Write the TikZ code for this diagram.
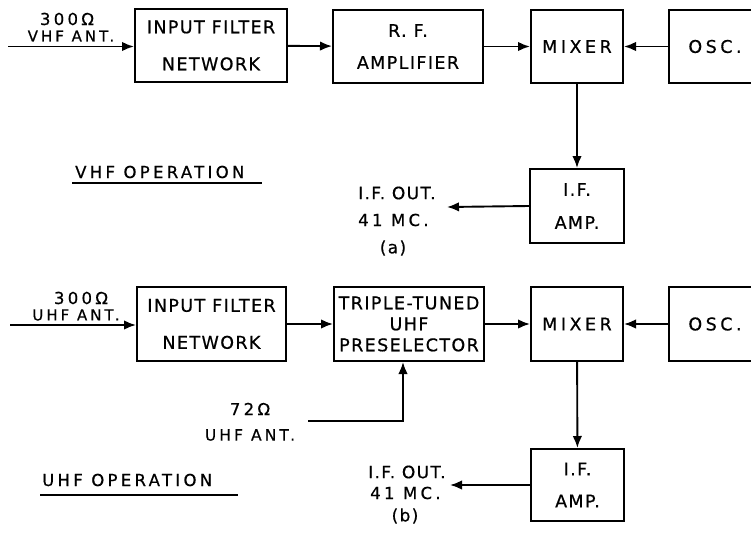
\documentclass[tikz,border=0pt]{standalone}
\usepackage{fontspec}
\usetikzlibrary{arrows.meta}
\newfontfamily\lbl[LetterSpace=8,FakeBold=0.6]{DejaVu Sans}
\newfontfamily\lblw[LetterSpace=20,FakeBold=0.6]{DejaVu Sans}
\tikzset{
  blk/.style={draw, line width=2pt, minimum width=#1, inner sep=0pt, align=center},
  blk/.default=150pt,
  two/.style={font=\lbl\fontsize{17.5}{#1}\selectfont},
  conn/.style={line width=1.9pt, -{Latex[length=12pt,width=9.5pt]}},
  wire/.style={line width=1.9pt},
  txt/.style={inner sep=0pt, font=\lbl\fontsize{17}{18}\selectfont},
  txtw/.style={inner sep=0pt, font=\lblw\fontsize{16.5}{18}\selectfont},
  small/.style={inner sep=0pt, font=\lblw\fontsize{15}{16}\selectfont},
  big/.style={font=\lblw\fontsize{17.5}{18}\selectfont},
}
\begin{document}
\begin{tikzpicture}[x=1pt,y=-1pt]
\useasboundingbox (0,0) rectangle (751,535);
\clip (0,0) rectangle (751,535);
% ---------- (a) VHF ----------
\node[blk=152pt, minimum height=73pt, two=37] (inf1) at (211,45.5) {INPUT FILTER\\NETWORK};
\node[blk=150pt, minimum height=73pt, two=32] (rf1) at (408,46.5) {R. F.\\AMPLIFIER};
\node[blk=92pt, minimum height=73pt, big] (mix1) at (577,46.5) {MIXER};
\node[blk=92pt, minimum height=73pt, big] (osc1) at (715,46.5) {OSC.};
\node[blk=94pt, minimum height=74pt, two=33] (ifa1) at (577,206) {I.F.\\AMP.};
\coordinate (ant1) at (8,46.5);
\coordinate (out1) at (447,207);
\node[txtw] (a1l1) at (67,19) {300Ω};
\node[small] (a1l2) at (71,36) {VHF ANT.};
\draw[conn] (ant1) -- (ant1 -| inf1.west);
\draw[conn] (inf1) -- (rf1);
\draw[conn] (rf1) -- (mix1);
\draw[conn] (osc1) -- (mix1);
\draw[conn] (mix1) -- (ifa1);
\draw[conn] (ifa1.west) -- (out1);
\node[txt, anchor=west] (o1a) at (358,193) {I.F. OUT.};
\node[txtw, anchor=west] (o1b) at (358,220) {41 MC.};
\node[txt] (o1c) at (393,248) {(a)};
\node[txtw, anchor=west] (vop) at (75,172) {VHF OPERATION};
\draw[wire] (72,183) -- (262,183);
% ---------- (b) UHF ----------
\node[blk=149pt, minimum height=74pt, two=37] (inf2) at (211.5,324) {INPUT FILTER\\NETWORK};
\node[blk=150pt, minimum height=74pt, two=21] (tt) at (409,324) {TRIPLE-TUNED\\UHF\\PRESELECTOR};
\node[blk=92pt, minimum height=74pt, big] (mix2) at (577,324) {MIXER};
\node[blk=92pt, minimum height=74pt, big] (osc2) at (715,324) {OSC.};
\node[blk=93pt, minimum height=72pt, two=32] (ifa2) at (577.5,485) {I.F.\\AMP.};
\coordinate (ant2) at (10,325);
\coordinate (ant3) at (308,421);
\coordinate (out2) at (450,485);
\node[txtw] (b1l1) at (81,298) {300Ω};
\node[small] (b1l2) at (76,315) {UHF ANT.};
\node[txtw] (b3l1) at (250,409) {72Ω};
\node[small, font=\lblw\fontsize{15.5}{16}\selectfont] (b3l2) at (250,435) {UHF ANT.};
\draw[conn] (ant2) -- (ant2 -| inf2.west);
\draw[conn] (inf2) -- (tt);
\draw[conn] (tt) -- (mix2);
\draw[conn] (osc2) -- (mix2);
\draw[conn] (mix2) -- (ifa2);
\draw[conn] (ifa2.west) -- (out2);
\draw[conn] (ant3) -| ([xshift=-6pt]tt.south);
\node[txt, anchor=west] (o2a) at (368,472) {I.F. OUT.};
\node[txtw, anchor=west] (o2b) at (370,493) {41 MC.};
\node[txt] (o2c) at (405,516) {(b)};
\node[txtw, anchor=west] (uop) at (42,480) {UHF OPERATION};
\draw[wire] (40,495) -- (238,495);
\end{tikzpicture}
\end{document}
